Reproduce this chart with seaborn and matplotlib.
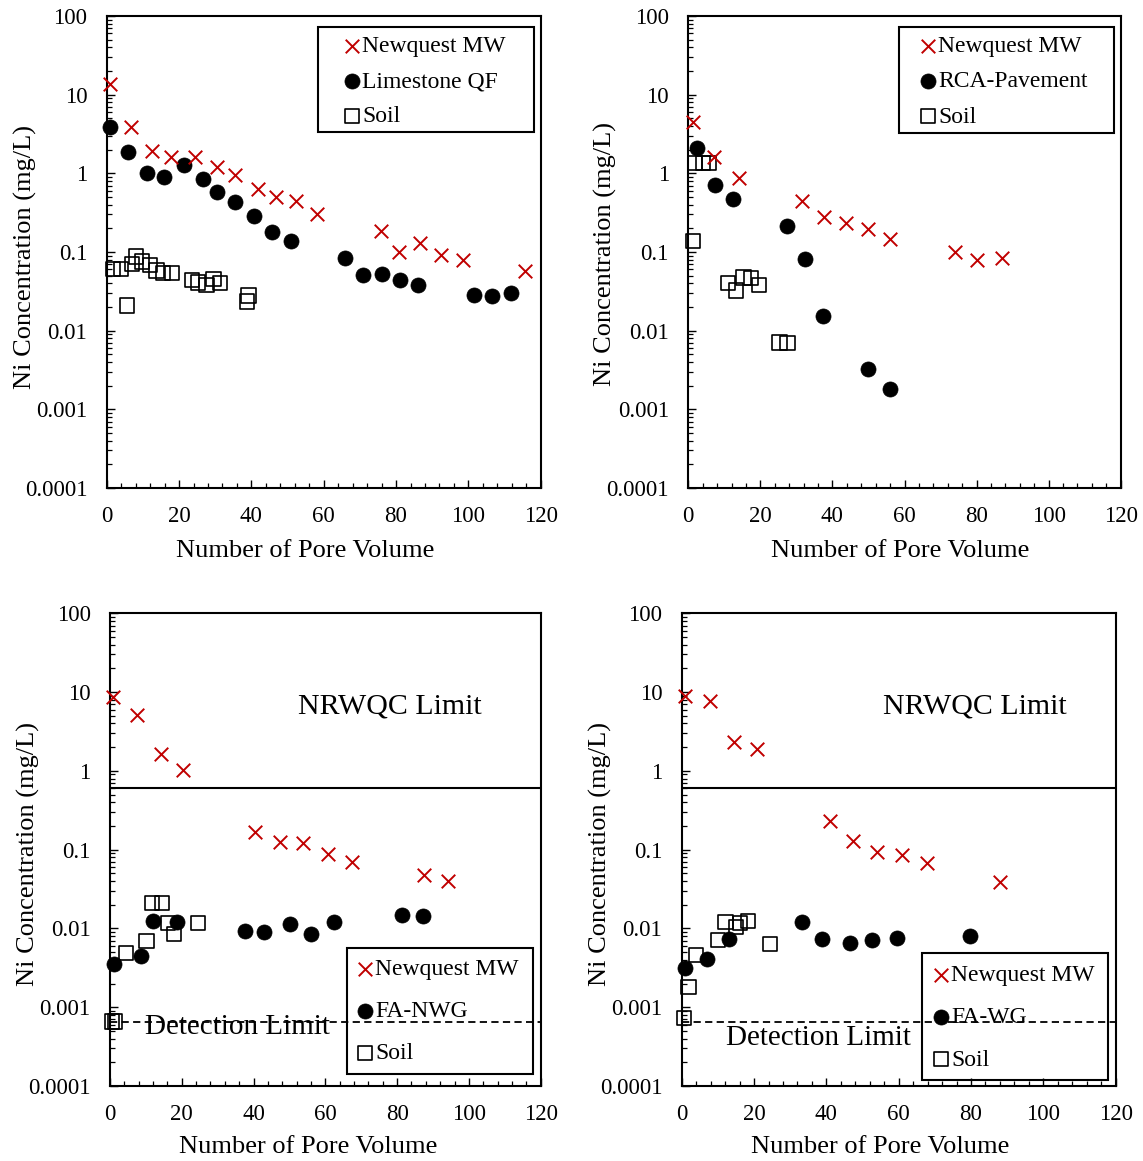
import numpy as np
import pandas as pd
import matplotlib
matplotlib.use("Agg")
import matplotlib.pyplot as plt
import seaborn as sns
from matplotlib.ticker import MultipleLocator, LogLocator, FixedLocator, NullFormatter
from matplotlib.patches import Rectangle

# ---------------- data ----------------
# Panel 1: Limestone QF
nq1_x = [0.9, 6.7, 12.6, 17.8, 24.4, 30.4, 35.4, 41.8, 46.8, 52.4, 58.1, 75.8, 80.9, 86.6, 92.4, 98.4, 115.6]
nq1_y = [13.7, 3.93, 1.95, 1.63, 1.63, 1.22, 0.94, 0.64, 0.50, 0.44, 0.30, 0.186, 0.0995, 0.13, 0.092, 0.078, 0.058]
lqf_x = [0.9, 6.0, 11.1, 15.9, 21.4, 26.5, 30.6, 35.6, 40.7, 45.8, 50.9, 65.9, 71.0, 76.0, 81.1, 86.2, 101.6, 106.6, 111.7]
lqf_y = [3.85, 1.89, 1.02, 0.91, 1.27, 0.85, 0.58, 0.43, 0.29, 0.177, 0.140, 0.0836, 0.051, 0.053, 0.0435, 0.038, 0.0283, 0.0272, 0.030]
soil1_x = [1.7, 3.9, 5.7, 6.9, 8.0, 9.7, 12.0, 13.8, 15.6, 18.0, 23.5, 25.3, 27.6, 29.5, 31.3, 38.7, 39.2]
soil1_y = [0.0605, 0.0605, 0.0209, 0.0708, 0.0875, 0.0757, 0.0687, 0.058, 0.0537, 0.0537, 0.0443, 0.041, 0.0383, 0.0452, 0.0402, 0.0235, 0.028]

# Panel 2: RCA-Pavement
nq2_x = [1.2, 7.2, 14.2, 31.6, 37.7, 43.8, 49.8, 56.0, 74.1, 80.1, 87.0]
nq2_y = [4.55, 1.63, 0.87, 0.44, 0.277, 0.233, 0.197, 0.146, 0.0995, 0.080, 0.083]
rca_x = [2.5, 7.4, 12.4, 27.3, 32.4, 37.5, 50.0, 56.1]
rca_y = [2.08, 0.72, 0.47, 0.211, 0.082, 0.0152, 0.00328, 0.00179]
soil2_x = [1.2, 1.9, 4.0, 5.8, 11.1, 13.2, 15.3, 17.4, 19.6, 25.3, 27.5]
soil2_y = [0.139, 1.35, 1.35, 1.35, 0.0402, 0.0324, 0.0474, 0.0466, 0.0383, 0.00708, 0.0070]

# Panel 3: FA-NWG
nq3_x = [0.9, 7.6, 14.1, 20.2, 40.3, 47.4, 53.7, 60.8, 67.5, 87.5, 94.2]
nq3_y = [8.6, 5.07, 1.62, 1.04, 0.166, 0.124, 0.120, 0.087, 0.070, 0.048, 0.040]
fanwg_x = [1.1, 8.6, 12.1, 18.8, 37.7, 42.8, 50.2, 55.9, 62.4, 81.3, 87.1]
fanwg_y = [0.00353, 0.0045, 0.0123, 0.0119, 0.00935, 0.0090, 0.0114, 0.0084, 0.0121, 0.0147, 0.0144]
soil3_x = [0.5, 1.5, 4.5, 10.2, 11.8, 14.4, 16.1, 17.8, 24.6]
soil3_y = [0.00066, 0.00066, 0.00492, 0.00698, 0.0208, 0.0208, 0.0118, 0.0085, 0.0118]

# Panel 4: FA-WG
nq4_x = [0.9, 7.7, 14.5, 20.7, 41.0, 47.5, 54.1, 60.9, 67.7, 88.1]
nq4_y = [9.0, 7.8, 2.35, 1.90, 0.231, 0.130, 0.093, 0.0855, 0.068, 0.039]
fawg_x = [0.9, 7.1, 13.2, 33.3, 38.7, 46.5, 52.7, 59.5, 79.7]
fawg_y = [0.00317, 0.0041, 0.00726, 0.0122, 0.00726, 0.00646, 0.00706, 0.00748, 0.0081]
soil4_x = [0.7, 1.9, 4.0, 10.0, 12.1, 15.0, 16.2, 18.3, 24.5]
soil4_y = [0.000736, 0.00182, 0.0046, 0.00713, 0.012, 0.0105, 0.0116, 0.0125, 0.00634]

nrwqc_limit = 0.61
detection_limit = 0.00065

x_ticks = [0, 20, 40, 60, 80, 100, 120]
y_ticks = [0.0001, 0.001, 0.01, 0.1, 1, 10, 100]
y_tick_labels = ["0.0001", "0.001", "0.01", "0.1", "1", "10", "100"]

x_label = "Number of Pore Volume"
y_label = "Ni Concentration (mg/L)"
nq_name = "Newquest MW"
soil_name = "Soil"

# ---------------- style ----------------
sns.set_theme(style="white")
plt.rcParams["font.family"] = ["Liberation Serif", "DejaVu Serif"]

W, H = 1143, 1161
fig = plt.figure(figsize=(W / 100, H / 100), dpi=100)
fig.patch.set_facecolor("white")

RED = "#C00000"


def frac(x, y):
    return x / W, 1 - y / H


def make_df(nx, ny, mname, mx, my, sx, sy):
    return pd.concat([
        pd.DataFrame({"pv": nx, "conc": ny, "series": nq_name}),
        pd.DataFrame({"pv": mx, "conc": my, "series": mname}),
        pd.DataFrame({"pv": sx, "conc": sy, "series": soil_name}),
    ], ignore_index=True)


panels = [
    dict(df=make_df(nq1_x, nq1_y, "Limestone QF", lqf_x, lqf_y, soil1_x, soil1_y), mname="Limestone QF",
         box=(106.7, 16, 540.7, 488), leg=(318, 27, 534, 132), mx=352, rows=(46, 80, 115), lims=False,
         xlab=(305, 540), ylab=(37, 257)),
    dict(df=make_df(nq2_x, nq2_y, "RCA-Pavement", rca_x, rca_y, soil2_x, soil2_y), mname="RCA-Pavement",
         box=(688.3, 16, 1120.7, 488), leg=(899, 27, 1114, 133), mx=928, rows=(45, 80, 115), lims=False,
         xlab=(900, 540), ylab=(617, 254)),
    dict(df=make_df(nq3_x, nq3_y, "FA-NWG", fanwg_x, fanwg_y, soil3_x, soil3_y), mname="FA-NWG",
         box=(110, 613.3, 540.7, 1086), leg=(347, 948, 533, 1074), mx=365, rows=(969, 1010, 1052), lims=True,
         xlab=(308, 1136), ylab=(40, 854), nr=(78, 6.65), dl=(35.4, 0.00056)),
    dict(df=make_df(nq4_x, nq4_y, "FA-WG", fawg_x, fawg_y, soil4_x, soil4_y), mname="FA-WG",
         box=(681.7, 613.3, 1115.7, 1086), leg=(922, 953, 1108, 1080), mx=941, rows=(974, 1016, 1058), lims=True,
         xlab=(880, 1136), ylab=(612, 854), nr=(81, 6.5), dl=(37.7, 0.000407)),
]

LEG_FS = 17
HL = 0.6
TICK_FS = 16.5
for p in panels:
    x0, y0, x1, y1 = p["box"]
    ax = fig.add_axes([x0 / W, 1 - y1 / H, (x1 - x0) / W, (y1 - y0) / H])
    ax.set_facecolor("white")
    ax.set_yscale("log")
    df = p["df"]

    sns.scatterplot(data=df[df["series"] == soil_name], x="pv", y="conc", ax=ax, marker="s", s=105,
                    facecolors="none", edgecolor="black", linewidth=1.2, clip_on=False, zorder=3,
                    label=soil_name)
    sns.scatterplot(data=df[df["series"] == p["mname"]], x="pv", y="conc", ax=ax, marker="o", s=118,
                    color="black", edgecolor="black", linewidth=0.5, clip_on=False, zorder=4,
                    label=p["mname"])
    sns.scatterplot(data=df[df["series"] == nq_name], x="pv", y="conc", ax=ax, marker="x", s=95,
                    color=RED, linewidth=1.4, clip_on=False, zorder=5, label=nq_name)

    ax.set_xlim(0, 120)
    ax.set_ylim(1e-4, 100)
    ax.xaxis.set_major_locator(FixedLocator(x_ticks))
    ax.xaxis.set_minor_locator(MultipleLocator(4))
    ax.set_xticklabels([str(t) for t in x_ticks])
    ax.yaxis.set_major_locator(FixedLocator(y_ticks))
    ax.yaxis.set_minor_locator(LogLocator(base=10, subs=np.arange(2, 10)))
    ax.yaxis.set_minor_formatter(NullFormatter())
    ax.set_yticklabels(y_tick_labels)

    ax.tick_params(axis="both", which="both", direction="in", left=True, bottom=True, top=False, right=False,
                   colors="black", labelcolor="black")
    ax.tick_params(axis="both", which="major", length=6, width=1.0)
    ax.tick_params(axis="both", which="minor", length=3.5, width=0.9)
    ax.tick_params(axis="y", which="major", pad=14, labelsize=TICK_FS)
    ax.tick_params(axis="x", which="major", pad=13, labelsize=TICK_FS)
    for sp in ax.spines.values():
        sp.set_visible(True)
        sp.set_color("black")
        sp.set_linewidth(1.5)

    ax.set_xlabel(x_label, fontsize=19, color="black")
    ax.set_ylabel(y_label, fontsize=19, color="black")
    lx, ly = p["xlab"]
    ax.xaxis.set_label_coords(lx / W, 1 - ly / H, transform=fig.transFigure)
    yx, yy = p["ylab"]
    ax.yaxis.set_label_coords(yx / W, 1 - yy / H, transform=fig.transFigure)

    if p["lims"]:
        ax.axhline(nrwqc_limit, color="black", lw=1.5, zorder=2)
        ax.axhline(detection_limit, color="black", lw=1.3, ls=(0, (4.0, 2.4)), zorder=6)
        ax.text(p["nr"][0], p["nr"][1], "NRWQC Limit", fontsize=21.5, ha="center", va="center", color="black")
        ax.text(p["dl"][0], p["dl"][1], "Detection Limit", fontsize=21, ha="center", va="center", color="black")

    handles, labels = ax.get_legend_handles_labels()
    order = [labels.index(nq_name), labels.index(p["mname"]), labels.index(soil_name)]
    handles = [handles[i] for i in order]
    labels = [labels[i] for i in order]
    r = p["rows"]
    spacing = (r[2] - r[0]) / 2
    em = LEG_FS * 100 / 72
    ls = (spacing - 0.9 * em) / em
    lx0 = p["mx"] - HL * em / 2
    leg = ax.legend(handles, labels, loc="center left", bbox_to_anchor=frac(lx0, r[1] + 1.5),
                    bbox_transform=fig.transFigure, frameon=False, borderpad=0, borderaxespad=0,
                    handlelength=HL, handletextpad=0.12, labelspacing=ls, fontsize=LEG_FS,
                    scatterpoints=1)
    for t in leg.get_texts():
        t.set_color("black")

    bx0, by0, bx1, by1 = p["leg"]
    fig.add_artist(Rectangle(frac(bx0, by1), (bx1 - bx0) / W, (by1 - by0) / H, transform=fig.transFigure,
                             fill=False, edgecolor="black", lw=1.5, zorder=5))

fig.savefig("out.png", dpi=100, facecolor="white")
